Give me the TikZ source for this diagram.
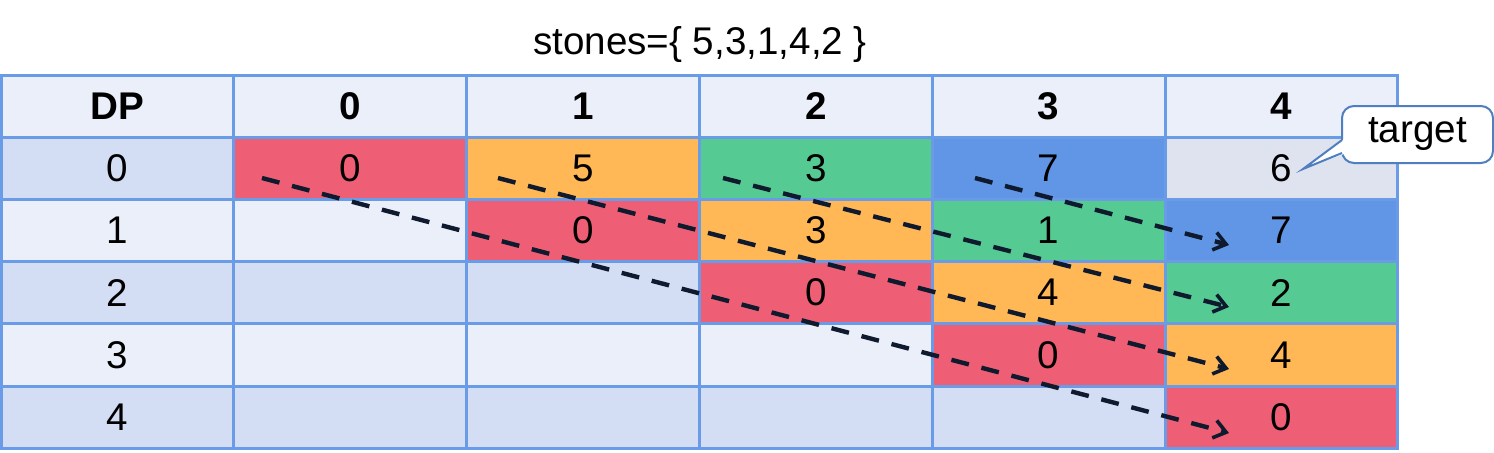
\documentclass[tikz,border=0pt]{standalone}
\usepackage{fontspec}
\setmainfont{Liberation Sans}
\usetikzlibrary{arrows.meta}
\definecolor{gridc}{HTML}{6A9BE6}
\definecolor{lightc}{HTML}{EAEFFA}
\definecolor{darkc}{HTML}{D3DDF4}
\definecolor{redc}{HTML}{EE5F75}
\definecolor{orangec}{HTML}{FFB855}
\definecolor{greenc}{HTML}{55CA92}
\definecolor{bluec}{HTML}{6096E5}
\definecolor{grayc}{HTML}{DFE3F0}
\definecolor{arrowc}{HTML}{0F1A2E}
\definecolor{calloutc}{HTML}{4F7FC0}
\begin{document}
\begin{tikzpicture}[x=0.5pt,y=-0.5pt,
  txt/.style={font=\fontsize{19.3}{22}\selectfont},
  cell/.style={txt,draw=gridc,line width=1.5pt,minimum width=116.4pt,minimum height=31.1pt,inner sep=0pt},
  flow/.style={arrowc,line width=2.2pt,dash pattern=on 9pt off 6.5pt,-{Straight Barb[length=6pt,width=9pt,line width=1.8pt]}},
  callbox/.style={txt,draw=calloutc,line width=1pt,fill=white,rounded corners=6pt,minimum width=75.5pt,minimum height=28.5pt,inner sep=0pt}]
\useasboundingbox (0,0) rectangle (1494,452);
\node[txt] (title) at (700,45) {stones=\{ 5,3,1,4,2 \}};
% header row
\foreach \c/\t in {0/DP,1/0,2/1,3/2,4/3,5/4}
  \node[cell,fill=lightc,font=\fontsize{19.3}{22}\selectfont\bfseries] (h\c) at ({1+232.8*(\c+0.5)},{75+62.2*0.5}) {\t};
% DP column
\foreach \r/\f in {1/darkc,2/lightc,3/darkc,4/lightc,5/darkc}
  \node[cell,fill=\f] (d\r) at ({1+232.8*0.5},{75+62.2*(\r+0.5)}) {\the\numexpr\r-1\relax};
% body cells
\foreach \c/\r/\f/\t in {
  1/1/redc/0, 2/1/orangec/5, 3/1/greenc/3, 4/1/bluec/7, 5/1/grayc/6,
  1/2/lightc/, 2/2/redc/0, 3/2/orangec/3, 4/2/greenc/1, 5/2/bluec/7,
  1/3/darkc/, 2/3/darkc/, 3/3/redc/0, 4/3/orangec/4, 5/3/greenc/2,
  1/4/lightc/, 2/4/lightc/, 3/4/lightc/, 4/4/redc/0, 5/4/orangec/4,
  1/5/darkc/, 2/5/darkc/, 3/5/darkc/, 4/5/darkc/, 5/5/redc/0}
  \node[cell,fill=\f] (c\c r\r) at ({1+232.8*(\c+0.5)},{75+62.2*(\r+0.5)}) {\t};
% arrows
\coordinate (a1s) at (262,178); \coordinate (a1e) at (1229,433);
\coordinate (a2s) at (498,178); \coordinate (a2e) at (1229,369);
\coordinate (a3s) at (723,178); \coordinate (a3e) at (1229,307);
\coordinate (a4s) at (975,178); \coordinate (a4e) at (1229,245);
\foreach \i in {1,2,3,4} \draw[flow] (a\i s) -- (a\i e);
% callout
\node[callbox] (callout) at (1417.5,134.5) {target};
\coordinate (ptip) at (1303,169);
\fill[white] (1344,139) -- (ptip) -- (1344,154) -- cycle;
\draw[calloutc,line width=1pt,line join=miter] (1342,140) -- (ptip) -- (1342,153);
\end{tikzpicture}
\end{document}
